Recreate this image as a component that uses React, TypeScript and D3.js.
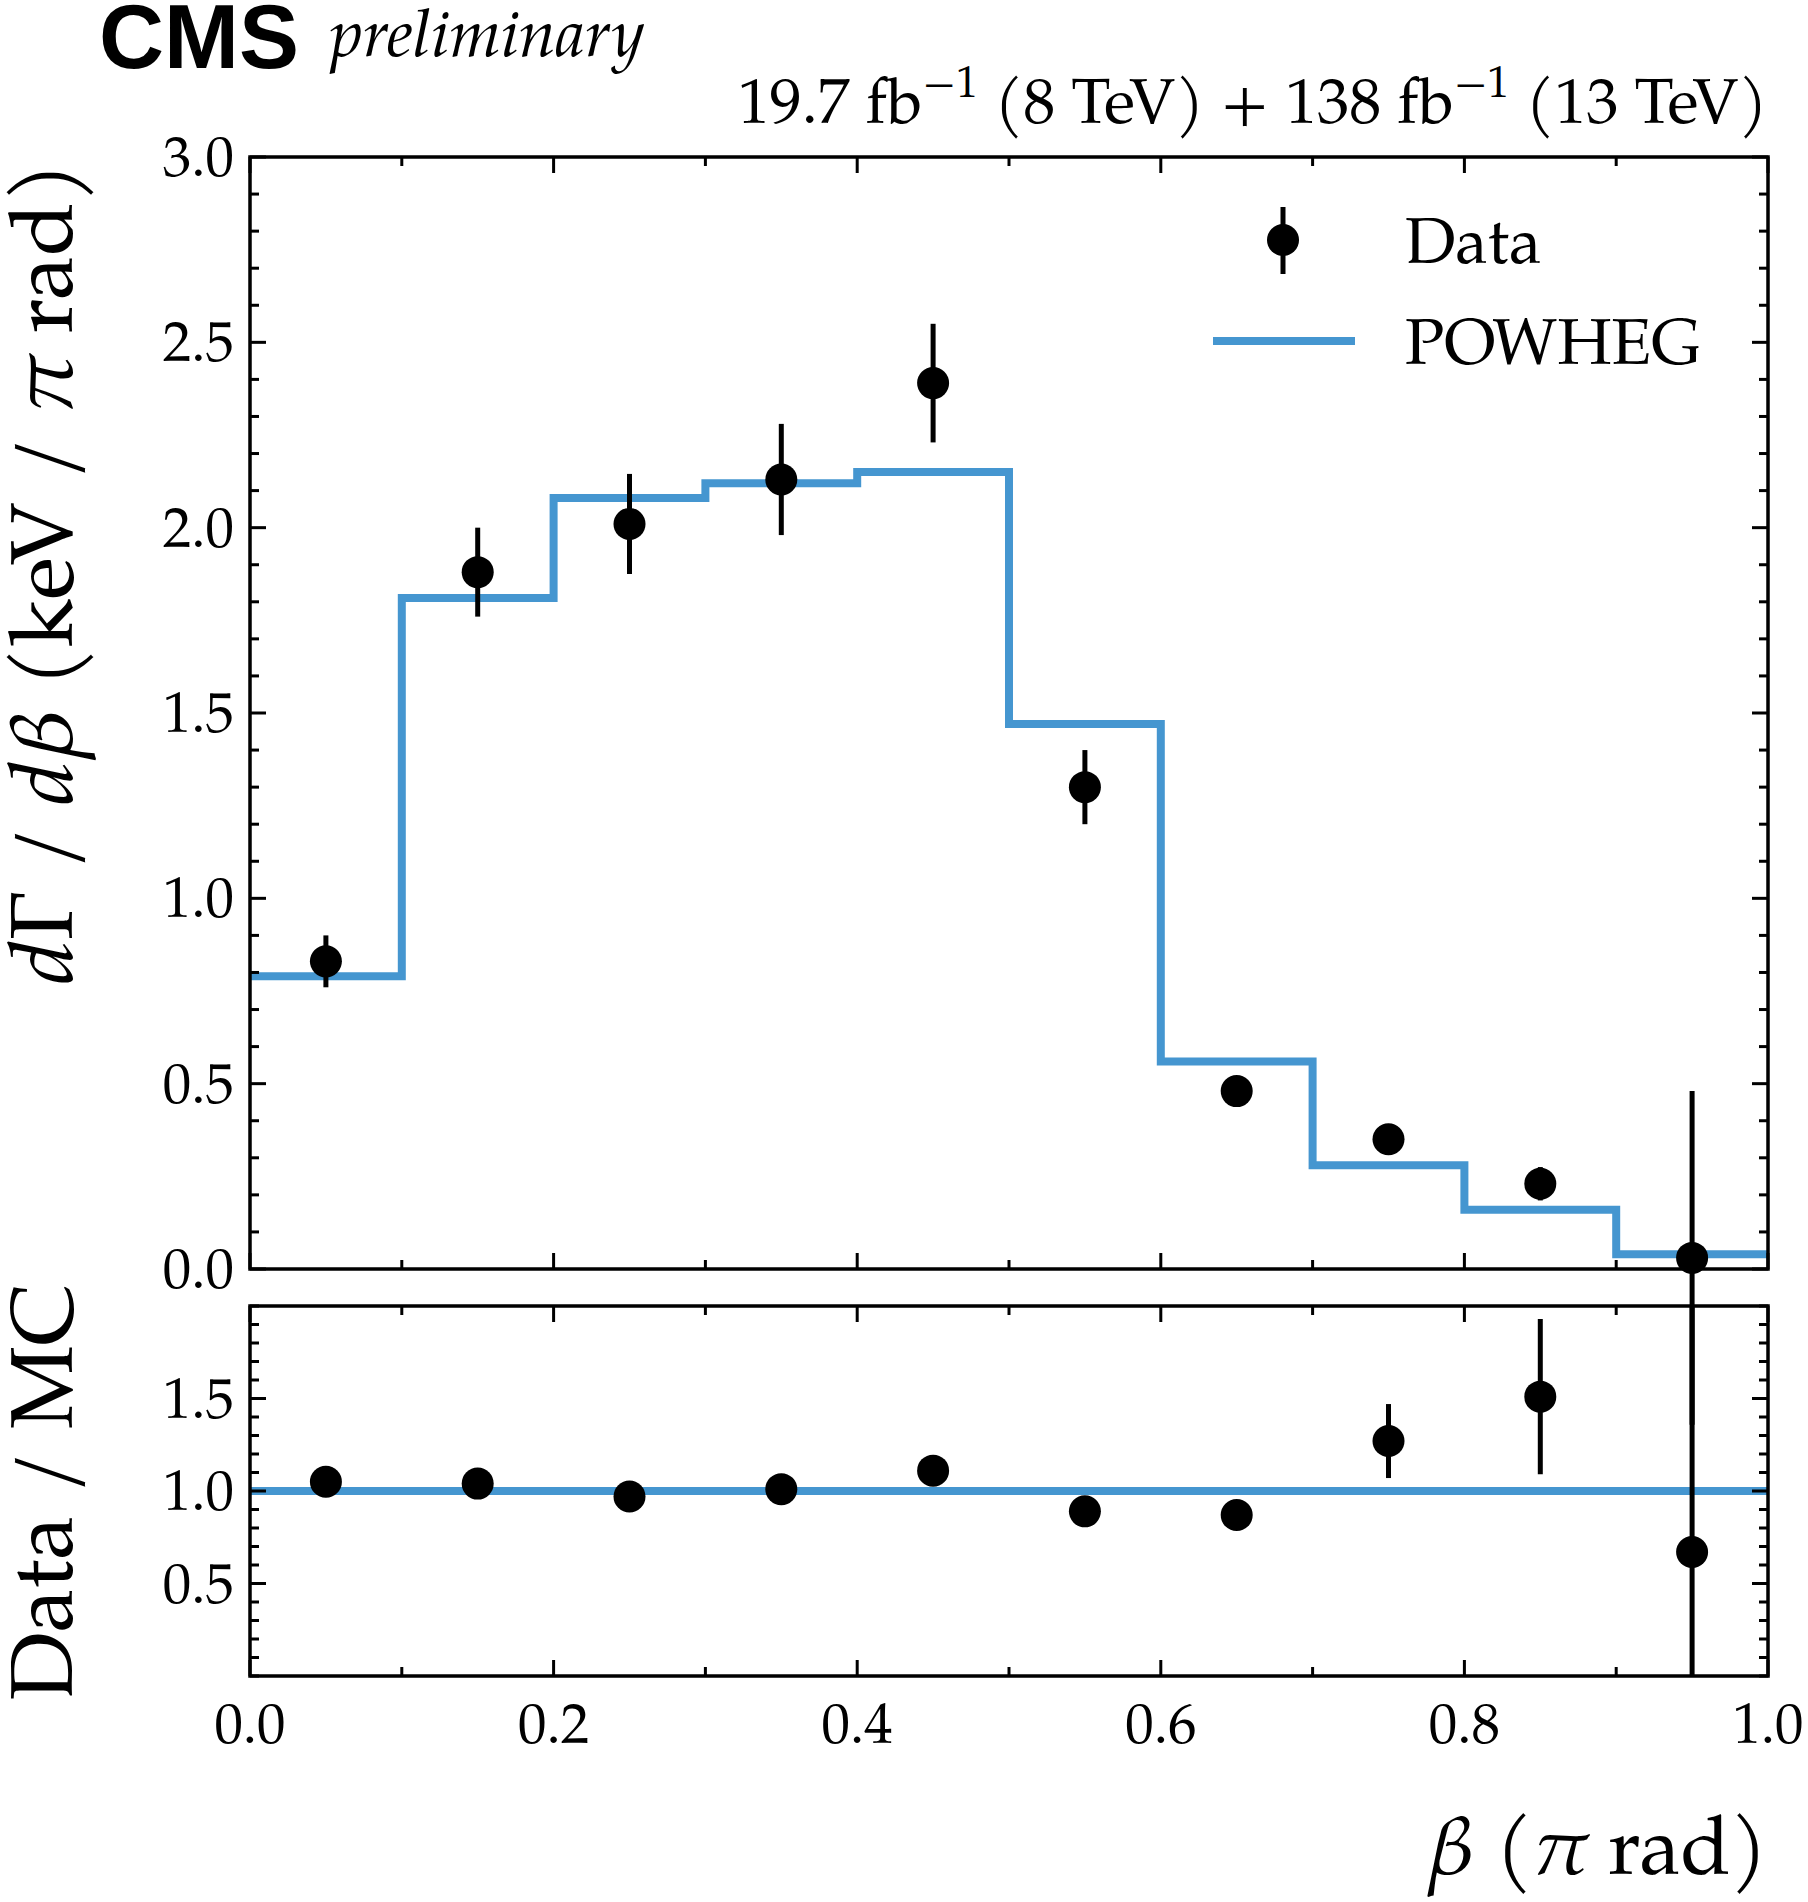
import * as d3 from 'd3';

const binEdges = [0, 0.1, 0.2, 0.3, 0.4, 0.5, 0.6, 0.7, 0.8, 0.9, 1.0];
const dataVals = [0.83, 1.88, 2.01, 2.13, 2.39, 1.30, 0.48, 0.35, 0.23, 0.03];
const dataErrs = [0.07, 0.12, 0.135, 0.15, 0.16, 0.1, 0.035, 0.035, 0.045, 0.45];
const mcVals = [0.79, 1.81, 2.08, 2.12, 2.15, 1.47, 0.56, 0.28, 0.16, 0.04];
const ratioVals = [1.05, 1.04, 0.97, 1.01, 1.11, 0.89, 0.87, 1.27, 1.51, 0.67];
const ratioErrs = [0.03, 0.03, 0.03, 0.03, 0.03, 0.03, 0.05, 0.2, 0.42, 1.5];
const xTicks = [0, 0.2, 0.4, 0.6, 0.8, 1.0];
const mainYTicks = [0, 0.5, 1.0, 1.5, 2.0, 2.5, 3.0];
const ratioYTicks = [0.5, 1.0, 1.5];

const L = 250, R = 1768;
const MT = 157, MB = 1269, RT = 1306, RB = 1676;
const BLUE = '#4596d0';
const SERIF = '"TeX Gyre Pagella", Palatino, "DejaVu Serif", serif';

const x = d3.scaleLinear().domain([0, 1]).range([L, R]);
const yMain = d3.scaleLinear().domain([0, 3]).range([MB, MT]);
const yRatio = d3.scaleLinear().domain([0, 2]).range([RB, RT]);

const centers = binEdges.slice(0, -1).map((e, i) => (e + binEdges[i + 1]) / 2);

function Frame({ y, yt, minor, top, bottom }: { y: d3.ScaleLinear<number, number>; yt: number[]; minor: number[]; top: number; bottom: number }) {
  const xMinor = d3.range(0, 1.0001, 0.1);
  return (
    <g stroke="#000" strokeWidth={3}>
      {xMinor.map((v) => {
        const len = xTicks.some((t) => Math.abs(t - v) < 1e-6) ? 16 : 9;
        return (
          <g key={'x' + v}>
            <line x1={x(v)} x2={x(v)} y1={bottom} y2={bottom - len} />
            <line x1={x(v)} x2={x(v)} y1={top} y2={top + len} />
          </g>
        );
      })}
      {minor.map((v) => (
        <g key={'m' + v}>
          <line x1={L} x2={L + 9} y1={y(v)} y2={y(v)} />
          <line x1={R} x2={R - 9} y1={y(v)} y2={y(v)} />
        </g>
      ))}
      {yt.map((v) => (
        <g key={'y' + v}>
          <line x1={L} x2={L + 16} y1={y(v)} y2={y(v)} />
          <line x1={R} x2={R - 16} y1={y(v)} y2={y(v)} />
        </g>
      ))}
      <rect x={L} y={top} width={R - L} height={bottom - top} fill="none" strokeWidth={3.5} />
    </g>
  );
}

export default function App() {
  const step = d3.line<[number, number]>().curve(d3.curveStepAfter);
  const stepPts: [number, number][] = binEdges.map((e, i) => [x(e), yMain(mcVals[Math.min(i, mcVals.length - 1)])]);
  const mainMinor = d3.range(0, 3.0001, 0.1).map((v) => +v.toFixed(2)).filter((v) => !mainYTicks.includes(v));
  const ratioMinor = d3.range(0, 2.0001, 0.1).map((v) => +v.toFixed(2)).filter((v) => !ratioYTicks.includes(v));
  return (
    <svg width={1808} height={1902} style={{ position: 'absolute', left: 0, top: 0, background: '#fff' }} fontFamily={SERIF}>
      <rect width={1808} height={1902} fill="#fff" />
      {/* main panel */}
      <path d={step(stepPts) ?? ''} fill="none" stroke={BLUE} strokeWidth={8} />
      {centers.map((c, i) => (
        <g key={i}>
          <line x1={x(c)} x2={x(c)} y1={yMain(dataVals[i] - dataErrs[i])} y2={Math.max(MT, yMain(dataVals[i] + dataErrs[i]))} stroke="#000" strokeWidth={5} />
          <circle cx={x(c)} cy={yMain(dataVals[i])} r={16} fill="#000" />
        </g>
      ))}
      <Frame y={yMain} yt={mainYTicks} minor={mainMinor} top={MT} bottom={MB} />
      {mainYTicks.map((v) => (
        <text key={v} x={L - 16} y={yMain(v) + 19} fontSize={57} textAnchor="end">{v.toFixed(1)}</text>
      ))}
      {/* legend */}
      <line x1={1283} x2={1283} y1={207} y2={274} stroke="#000" strokeWidth={5} />
      <circle cx={1283} cy={240} r={16} fill="#000" />
      <text x={1405} y={263} fontSize={65}>Data</text>
      <line x1={1213} x2={1355} y1={341} y2={341} stroke={BLUE} strokeWidth={8} />
      <text x={1405} y={364} fontSize={65}>POWHEG</text>
      {/* ratio panel */}
      <clipPath id="rclip"><rect x={L} y={RT} width={R - L} height={RB - RT} /></clipPath>
      <line x1={L} x2={R} y1={yRatio(1)} y2={yRatio(1)} stroke={BLUE} strokeWidth={8} />
      <g clipPath="url(#rclip)">
        {centers.map((c, i) => (
          <g key={i}>
            <line x1={x(c)} x2={x(c)} y1={yRatio(ratioVals[i] - ratioErrs[i])} y2={yRatio(ratioVals[i] + ratioErrs[i])} stroke="#000" strokeWidth={5} />
            <circle cx={x(c)} cy={yRatio(ratioVals[i])} r={16} fill="#000" />
          </g>
        ))}
      </g>
      <Frame y={yRatio} yt={ratioYTicks} minor={ratioMinor} top={RT} bottom={RB} />
      {ratioYTicks.map((v) => (
        <text key={v} x={L - 16} y={yRatio(v) + 19} fontSize={57} textAnchor="end">{v.toFixed(1)}</text>
      ))}
      {xTicks.map((v) => (
        <text key={v} x={x(v)} y={1743} fontSize={57} textAnchor="middle">{v.toFixed(1)}</text>
      ))}
      {/* labels */}
      <text x={R} y={1874} fontSize={82} textAnchor="end"><tspan fontStyle="italic">β</tspan> (<tspan fontStyle="italic">π</tspan> rad)</text>
      <text transform={`translate(72,573) rotate(-90)`} fontSize={88} textAnchor="middle">
        <tspan fontStyle="italic">d</tspan>Γ / <tspan fontStyle="italic">dβ</tspan> (keV / <tspan fontStyle="italic">π</tspan> rad)
      </text>
      <text transform={`translate(72,1492) rotate(-90)`} fontSize={88} textAnchor="middle">Data / MC</text>
      <text x={99} y={68} fontSize={90} fontWeight="bold" fontFamily='"Liberation Sans", Arial, sans-serif'>CMS</text>
      <text x={330} y={56} fontSize={66} fontStyle="italic">preliminary</text>
      <text x={R} y={123} fontSize={64} textAnchor="end">
        19.7 fb<tspan dy={-26} fontSize={44}>−1</tspan><tspan dy={26}> (8 TeV) + 138 fb</tspan><tspan dy={-26} fontSize={44}>−1</tspan><tspan dy={26}> (13 TeV)</tspan>
      </text>
    </svg>
  );
}
